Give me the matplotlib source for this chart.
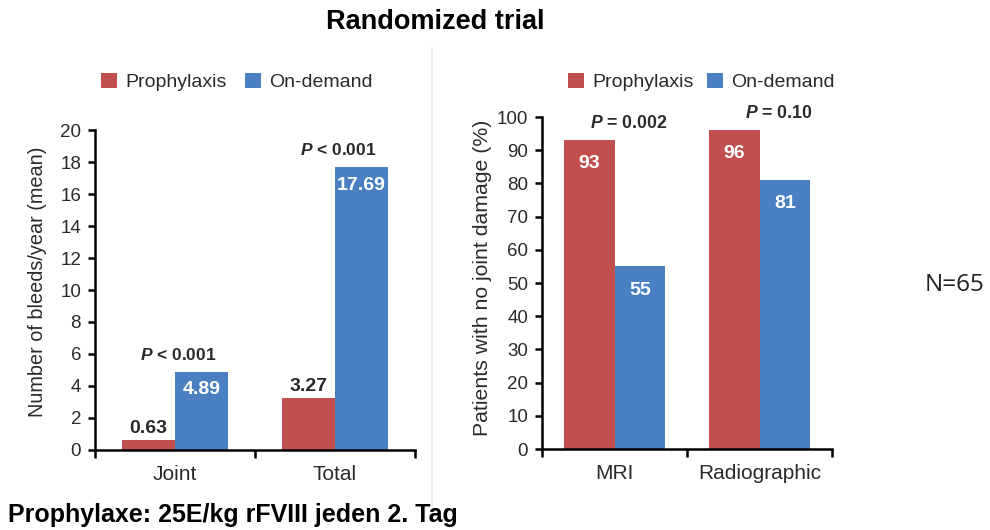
import numpy as np
import matplotlib
matplotlib.use('Agg')
import matplotlib.pyplot as plt
from matplotlib.patches import Patch
from matplotlib.lines import Line2D

plt.rcParams['font.family'] = ['Liberation Sans', 'DejaVu Sans']
plt.rcParams['mathtext.fontset'] = 'custom'
plt.rcParams['mathtext.bf'] = 'Liberation Sans:bold'
plt.rcParams['mathtext.it'] = 'Liberation Sans:italic'
plt.rcParams['mathtext.bfit'] = 'Liberation Sans:italic:bold'

# data
series = ['Prophylaxis', 'On-demand']
bleed_cats = ['Joint', 'Total']
bleed_proph = [0.63, 3.27]
bleed_ondem = [4.89, 17.69]
bleed_p = ['< 0.001', '< 0.001']

damage_cats = ['MRI', 'Radiographic']
damage_proph = [93, 96]
damage_ondem = [55, 81]
damage_p = ['= 0.002', '= 0.10']

RED = '#c24f4d'
BLUE = '#4a7fc1'
TXT = '#2a2a2a'

fig = plt.figure(figsize=(9.9, 5.3), dpi=100)


def style_axes(ax, ymax, ystep):
    for s in ['top', 'right']:
        ax.spines[s].set_visible(False)
    for s in ['left', 'bottom']:
        ax.spines[s].set_linewidth(1.8)
    ax.set_xlim(-0.5, 1.5)
    ax.set_ylim(0, ymax)
    ax.set_yticks(np.arange(0, ymax + 1, ystep))
    ax.tick_params(axis='y', length=5, width=1.8, labelsize=13.5, colors='black',
                   labelcolor=TXT, pad=5)
    ax.set_xticks([-0.5, 0.5, 1.5], minor=True)
    ax.tick_params(axis='x', which='minor', length=6, width=1.8, direction='out')
    ax.tick_params(axis='x', which='major', length=0, labelsize=15, labelcolor=TXT, pad=11)


def add_legend(ax, x_px, colsp):
    handles = [Patch(facecolor=RED, edgecolor='none'), Patch(facecolor=BLUE, edgecolor='none')]
    ax.legend(handles, series, loc='center left', ncol=2, frameon=False,
              bbox_to_anchor=(x_px / 990, 1 - 82 / 530), bbox_transform=fig.transFigure,
              fontsize=14, handlelength=0.8, handleheight=0.8, handletextpad=0.45,
              columnspacing=colsp, borderpad=0, borderaxespad=0, labelcolor=TXT)


# left panel: bleeds
ax1 = fig.add_axes([95 / 990, 1 - 450 / 530, 320 / 990, 320 / 530])
x = np.arange(len(bleed_cats))
w = 0.33
b1 = ax1.bar(x - w / 2, bleed_proph, w, color=RED)
b2 = ax1.bar(x + w / 2, bleed_ondem, w, color=BLUE)
style_axes(ax1, 20, 2)
ax1.set_xticks(x)
ax1.set_xticklabels(bleed_cats)
ax1.set_ylabel('Number of bleeds/year (mean)', fontsize=14.3, color=TXT, labelpad=3)
ax1.yaxis.set_label_coords(-0.15, 0.525)
for bar, v in zip(b1, bleed_proph):
    ax1.annotate(f'{v:.2f}', (bar.get_x() + bar.get_width() / 2, v), xytext=(0, 2),
                 textcoords='offset points', ha='center', va='bottom',
                 fontsize=14, fontweight='bold', color=TXT)
for bar, v in zip(b2, bleed_ondem):
    ax1.annotate(f'{v:.2f}', (bar.get_x() + bar.get_width() / 2, v), xytext=(0, -13),
                 textcoords='offset points', ha='center', va='center',
                 fontsize=14, fontweight='bold', color='white')
for i, p in enumerate(bleed_p):
    ax1.annotate(r'$\mathbfit{P}$' + ' ' + p, (x[i] + 0.02, bleed_ondem[i]), xytext=(0, 12),
                 textcoords='offset points', ha='center', va='center',
                 fontsize=12.5, fontweight='bold', color=TXT)
add_legend(ax1, 101, 0.95)

# right panel: joint damage
ax2 = fig.add_axes([542 / 990, 1 - 449 / 530, 290 / 990, 332 / 530])
x = np.arange(len(damage_cats))
w = 0.35
b1 = ax2.bar(x - w / 2, damage_proph, w, color=RED)
b2 = ax2.bar(x + w / 2, damage_ondem, w, color=BLUE)
style_axes(ax2, 100, 10)
ax2.set_xticks(x)
ax2.set_xticklabels(damage_cats)
ax2.set_ylabel('Patients with no joint damage (%)', fontsize=15.3, color=TXT, labelpad=3)
ax2.yaxis.set_label_coords(-0.172, 0.515)
for bars, vals in [(b1, damage_proph), (b2, damage_ondem)]:
    for bar, v in zip(bars, vals):
        ax2.annotate(f'{v}', (bar.get_x() + bar.get_width() / 2, v), xytext=(0, -17),
                     textcoords='offset points', ha='center', va='center',
                     fontsize=14, fontweight='bold', color='white')
p_x = [0.1, 1.13]
for i, p in enumerate(damage_p):
    ax2.annotate(r'$\mathbfit{P}$' + ' ' + p, (p_x[i], max(damage_proph[i], damage_ondem[i])),
                 xytext=(0, 12), textcoords='offset points', ha='center', va='center',
                 fontsize=12.7, fontweight='bold', color=TXT)
add_legend(ax2, 568, 0.7)

# separator
fig.add_artist(Line2D([432 / 990, 432 / 990], [1 - 48 / 530, 1 - 505 / 530],
                      color='#ececec', linewidth=1.2))

fig.text(435 / 990, 1 - 22 / 530, 'Randomized trial', ha='center', va='center',
         fontsize=19.5, fontweight='bold', color='black')
fig.text(8 / 990, 1 - 515 / 530, 'Prophylaxe: 25E/kg rFVIII jeden 2. Tag', ha='left',
         va='center', fontsize=18, fontweight='bold', color='black')
fig.text(925 / 990, 1 - 285 / 530, 'N=65', ha='left', va='center', fontsize=17.5,
         family='Open Sans', color='#222222')

fig.savefig('out.png', dpi=100)
